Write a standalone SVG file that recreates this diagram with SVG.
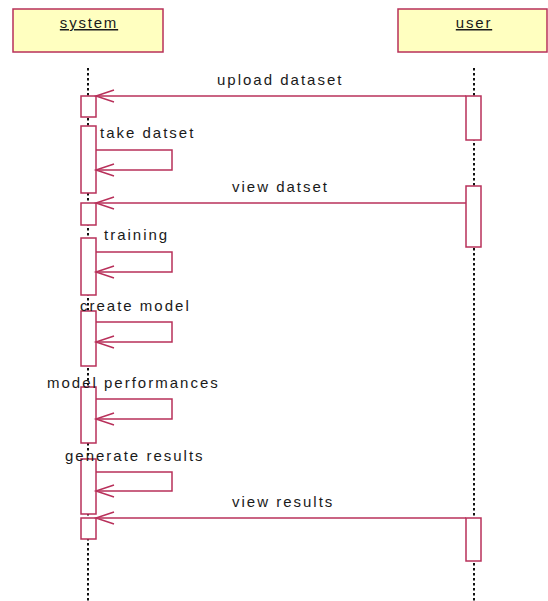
<svg xmlns="http://www.w3.org/2000/svg" width="548" height="601" viewBox="0 0 548 601">
  <style>
    .head { fill: #ffffc0; stroke: #b8305a; stroke-width: 1.5; }
    .act { fill: #ffffff; stroke: #b8305a; stroke-width: 1.5; }
    .life { stroke: #111; stroke-width: 2; stroke-dasharray: 2.5 2.5; fill: none; }
    .msg { stroke: #b8305a; stroke-width: 1.5; fill: none; marker-end: url(#open); }
    .lbl { font-family: "Liberation Sans", Arial, sans-serif; font-size: 15px; letter-spacing: 2px; fill: #1a1a1a; }
    .name { font-family: "Liberation Sans", Arial, sans-serif; font-size: 15px; letter-spacing: 1.8px; fill: #1a1a1a; text-decoration: underline; }
  </style>
  <defs>
    <marker id="open" markerUnits="userSpaceOnUse" markerWidth="20" markerHeight="14" refX="0" refY="0" orient="auto" overflow="visible">
      <path d="M-18,-6 L0,0 L-18,6" fill="none" stroke="#b8305a" stroke-width="1.5"/>
    </marker>
  </defs>
  <rect width="548" height="601" fill="#ffffff"/>

  <!-- lifelines -->
  <g id="lifelines">
    <line class="life" x1="88" y1="68" x2="88" y2="601"/>
    <line class="life" x1="474" y1="68" x2="474" y2="601"/>
  </g>

  <!-- participant: system -->
  <g id="system">
    <rect class="head" x="13" y="9" width="150" height="43"/>
    <text class="name" x="89" y="28" text-anchor="middle">system</text>
    <rect class="act" x="81" y="96" width="15" height="21"/>
    <rect class="act" x="81" y="126" width="15" height="67"/>
    <rect class="act" x="81" y="203" width="15" height="22"/>
    <rect class="act" x="81" y="238" width="15" height="57"/>
    <rect class="act" x="81" y="311" width="15" height="55"/>
    <rect class="act" x="81" y="387" width="15" height="56"/>
    <rect class="act" x="81" y="459" width="15" height="55"/>
    <rect class="act" x="81" y="518" width="15" height="21"/>
  </g>

  <!-- participant: user -->
  <g id="user">
    <rect class="head" x="398" y="9" width="149" height="43"/>
    <text class="name" x="474" y="28" text-anchor="middle">user</text>
    <rect class="act" x="466" y="96" width="15" height="44"/>
    <rect class="act" x="466" y="186" width="15" height="61"/>
    <rect class="act" x="466" y="518" width="15" height="43"/>
  </g>

  <!-- messages -->
  <g id="connectors">
    <path class="msg" d="M466,96 L96,96"/>
    <path class="msg" d="M96,150 L172,150 L172,170 L96,170"/>
    <path class="msg" d="M466,203 L96,203"/>
    <path class="msg" d="M96,252 L172,252 L172,272 L96,272"/>
    <path class="msg" d="M96,322 L172,322 L172,342 L96,342"/>
    <path class="msg" d="M96,399 L172,399 L172,419 L96,419"/>
    <path class="msg" d="M96,472 L172,472 L172,491 L96,491"/>
    <path class="msg" d="M466,518 L96,518"/>
  </g>

  <!-- message labels -->
  <g id="labels">
    <text class="lbl" x="217" y="85">upload dataset</text>
    <text class="lbl" x="100" y="138">take datset</text>
    <text class="lbl" x="232" y="192">view datset</text>
    <text class="lbl" x="104" y="240">training</text>
    <text class="lbl" x="80" y="311">create model</text>
    <text class="lbl" x="47" y="388">model performances</text>
    <text class="lbl" x="65" y="461">generate results</text>
    <text class="lbl" x="232" y="507">view results</text>
  </g>
</svg>
